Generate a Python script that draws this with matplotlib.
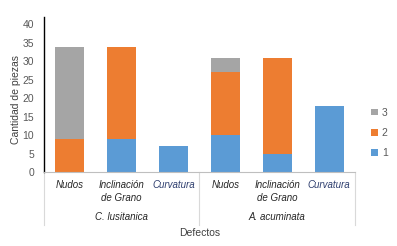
import matplotlib.pyplot as plt
import matplotlib.transforms as mtransforms
import numpy as np

groups = ["C. lusitanica", "A. acuminata"]
defects = ["Nudos", "Inclinación\nde Grano", "Curvatura"]
series_names = ["1", "2", "3"]
s1 = [0, 9, 7, 10, 5, 18]
s2 = [9, 25, 0, 17, 26, 0]
s3 = [25, 0, 0, 4, 0, 0]
colors = ["#5B9BD5", "#ED7D31", "#A5A5A5"]
yticks = [0, 5, 10, 15, 20, 25, 30, 35, 40]

txt = "#595959"
plt.rcParams["font.family"] = ["Liberation Sans", "DejaVu Sans"]

fig = plt.figure(figsize=(3.97, 2.46), dpi=100)
ax = fig.add_axes([44 / 397, 74 / 246, 311 / 397, 155 / 246])

x = np.arange(len(s1))
bottom = np.zeros(len(s1))
bars = []
for vals, c, name in zip([s1, s2, s3], colors, series_names):
    b = ax.bar(x, vals, width=0.56, bottom=bottom, color=c, label=name)
    bars.append(b)
    bottom += np.array(vals)

ax.set_xlim(-0.5, 5.5)
ax.set_ylim(0, 42)
ax.set_yticks(yticks)
ax.tick_params(axis="y", length=0, labelsize=7.5, labelcolor=txt, pad=7)
ax.set_xticks([])
for s in ["top", "right"]:
    ax.spines[s].set_visible(False)
ax.spines["left"].set_color("black")
ax.spines["left"].set_linewidth(1.0)
ax.spines["bottom"].set_color("#BFBFBF")
ax.spines["bottom"].set_linewidth(0.8)

trans = mtransforms.blended_transform_factory(ax.transData, ax.transAxes)
for i in range(len(s1)):
    label = defects[i % 3]
    col = "#2F3F6F" if label == "Curvatura" else "#262626"
    ax.text(i, -0.05, label, transform=trans, ha="center", va="top",
            fontsize=7, style="italic", color=col, linespacing=1.4)
for g, name in enumerate(groups):
    ax.text(g * 3 + 1, -0.255, name, transform=trans, ha="center", va="top",
            fontsize=7, style="italic", color="#262626")
for xs in [-0.5, 2.5, 5.5]:
    ax.plot([xs, xs], [0, -0.345], transform=trans, color="#D9D9D9",
            lw=0.8, clip_on=False)

fig.text(200 / 397, 1 - 233 / 246, "Defectos", ha="center", va="center",
         fontsize=7.5, color="#404040")
fig.text(16 / 397, 1 - 100 / 246, "Cantidad de piezas", ha="center", va="center",
         rotation=90, fontsize=7.5, color="#404040")

handles = bars[::-1]
leg = fig.legend(handles, series_names[::-1], loc="center left",
                 bbox_to_anchor=(362 / 397, 1 - 133 / 246), frameon=False,
                 fontsize=7.5, handlelength=0.6, handleheight=0.6,
                 handletextpad=0.4, labelspacing=1.0)
for t in leg.get_texts():
    t.set_color(txt)

fig.savefig("out.png", dpi=100)
